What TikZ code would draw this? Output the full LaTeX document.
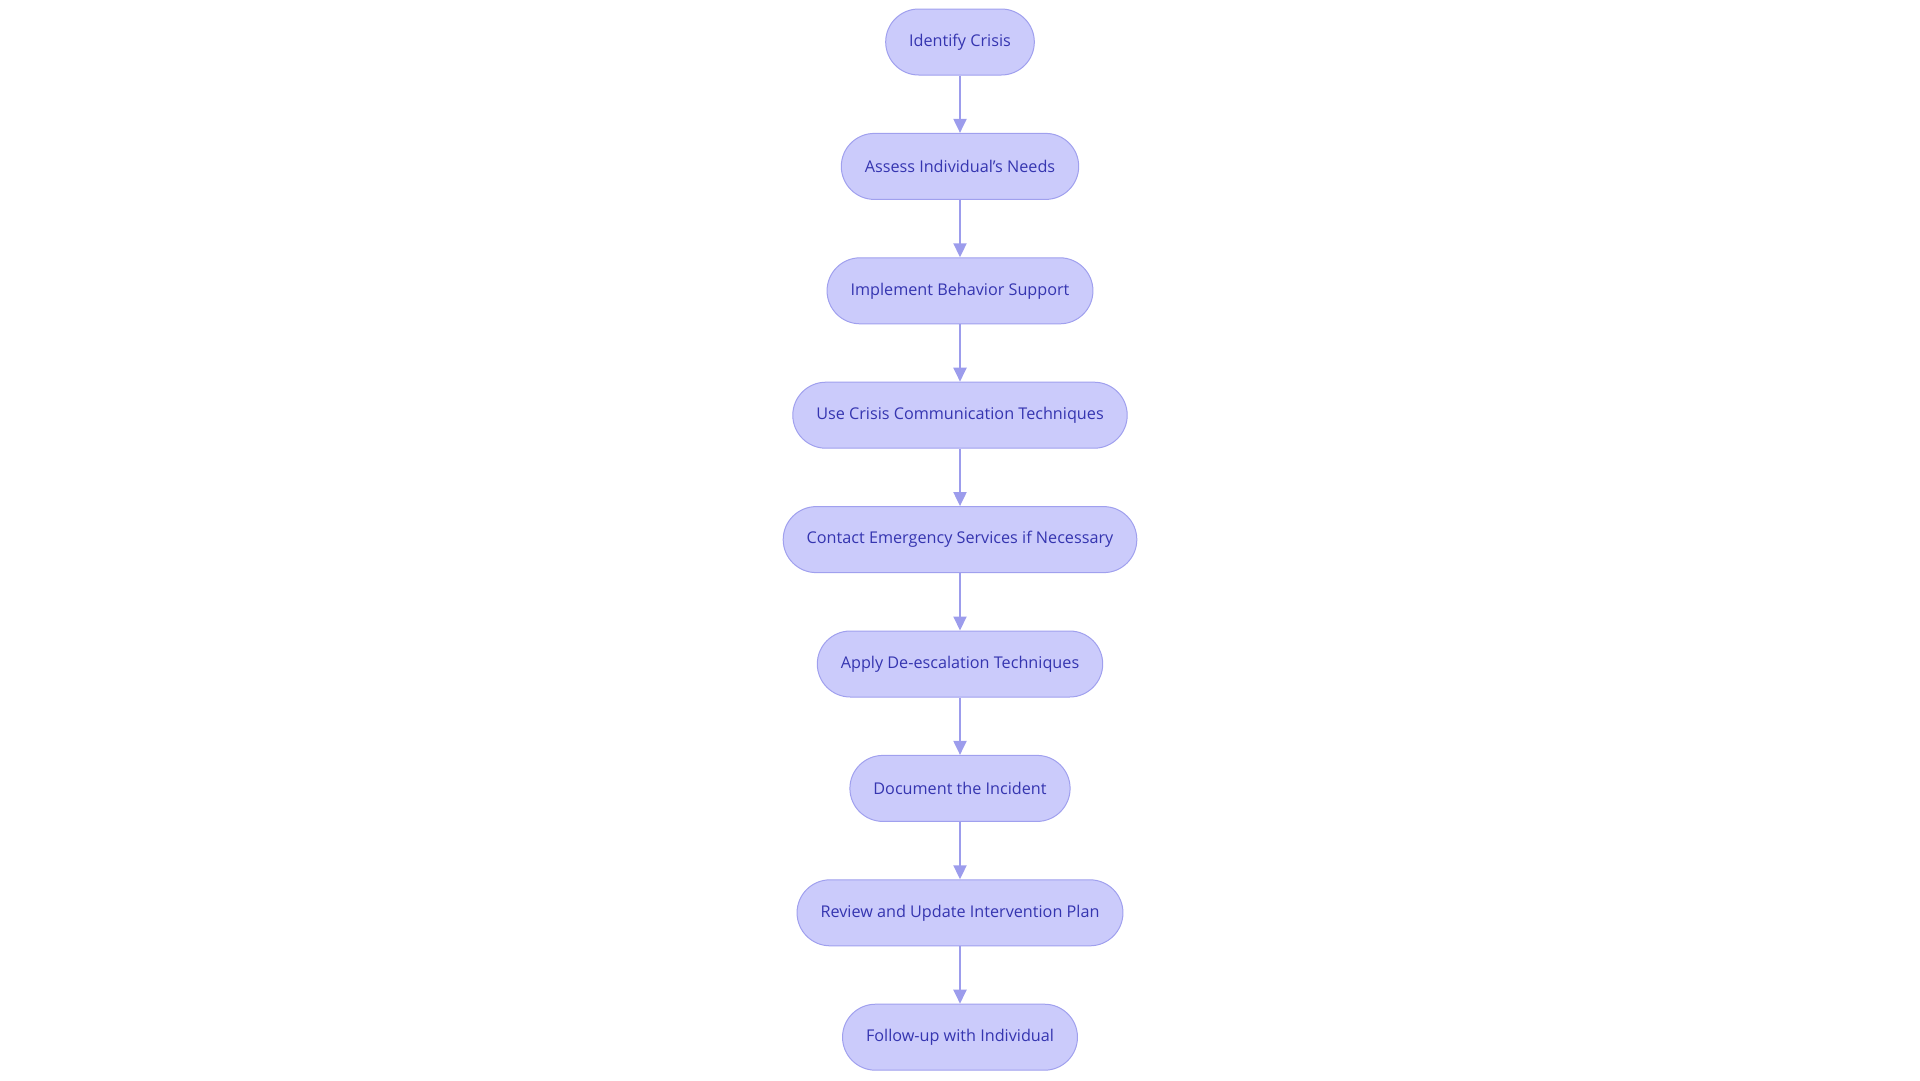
\documentclass[tikz,border=0pt]{standalone}
\usepackage{fontspec}
\setmainfont{Open Sans}
\usepackage{tikz}
\usetikzlibrary{positioning,arrows.meta}
\definecolor{boxfill}{HTML}{CBCBFB}
\definecolor{boxline}{HTML}{A0A0EE}
\definecolor{arrowline}{HTML}{9C9CEC}
\definecolor{boxtext}{HTML}{3535B0}

\begin{document}
\begin{tikzpicture}[->,>={Triangle[width=13pt,length=14pt]},auto,node distance=57.4pt,
		stage/.style={draw=boxline,line width=1pt,fill=boxfill,text=boxtext,rounded corners=33pt,
			minimum height=66pt,inner xsep=23.5pt,font=\fontsize{16.2pt}{19pt}\selectfont}]
		\useasboundingbox (0,0) rectangle (1920pt,-1080pt);
		\node[stage] (s1) at (960pt,-42pt) {Identify Crisis};
		\node[stage] (s2) [below=of s1] {Assess Individual's Needs};
		\node[stage] (s3) [below=of s2] {Implement Behavior Support};
		\node[stage] (s4) [below=of s3] {Use Crisis Communication Techniques};
		\node[stage] (s5) [below=of s4] {Contact Emergency Services if Necessary};
		\node[stage] (s6) [below=of s5] {Apply De-escalation Techniques};
		\node[stage] (s7) [below=of s6] {Document the Incident};
		\node[stage] (s8) [below=of s7] {Review and Update Intervention Plan};
		\node[stage] (s9) [below=of s8] {Follow-up with Individual};

		\draw[arrowline,line width=2pt]
				(s1) edge (s2)
				(s2) edge (s3)
				(s3) edge (s4)
				(s4) edge (s5)
				(s5) edge (s6)
				(s6) edge (s7)
				(s7) edge (s8)
				(s8) edge (s9);
	\end{tikzpicture}
\end{document}
